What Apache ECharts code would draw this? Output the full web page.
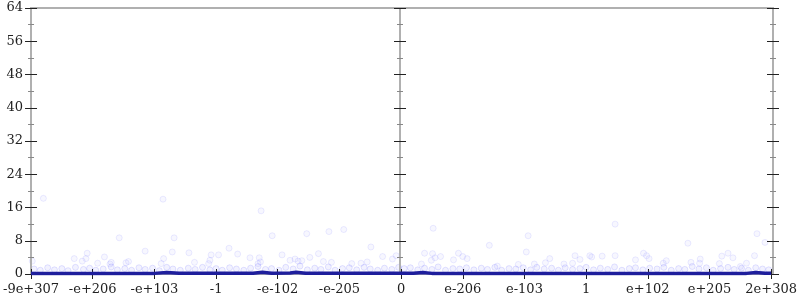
<!DOCTYPE html>
<html><head><meta charset="utf-8">
<script src="https://cdn.jsdelivr.net/npm/echarts@6/dist/echarts.min.js"></script>
<style>html,body{margin:0;padding:0;background:#fff}#c{width:800px;height:300px}</style>
</head><body><div id="c"></div>
<script>
const tickLabels = ['-9e+307','-e+206','-e+103','-1','-e-102','-e-205','0','e-206','e-103','1','e+102','e+205','2e+308'];
const yTicks = [0,8,16,24,32,40,48,56,64];

const scatterHigh = [[0.2,18.2],[2.14,18],[1.43,8.7],[2.32,8.7],[1.85,5.5],[2.29,5.3],[2.56,5.1],[0.91,5.0],[0.70,3.7],[0.89,3.7],[0.83,3.1],[1.19,4.1],[1.08,2.6],[1.28,2.4],[1.30,2.8],[1.54,2.7],[1.58,3.0],[2.15,3.7],[2.11,2.5],[2.65,2.8],[2.92,4.6],[2.9,3.3],[2.88,2.5],[0.02,3.1],
[3.73,15.2],[3.91,9.2],[4.47,9.7],[4.83,10.2],[5.07,10.7],[5.51,6.5],[3.04,4.6],[3.21,6.2],[3.35,4.8],[3.55,3.9],[3.70,3.9],[3.72,2.9],[3.68,2.5],[4.07,4.6],[4.2,3.3],[4.28,3.6],[4.33,3.1],[4.39,3.2],[4.52,4.0],[4.66,4.9],[4.74,3.0],[4.87,2.8],[5.2,2.5],[5.35,2.6],[5.45,2.9],[5.70,4.2],[5.86,3.6],[5.92,4.4],
[6.52,11],[8.06,9.2],[7.43,6.9],[8.03,5.3],[6.38,5.0],[6.51,4.9],[6.55,3.9],[6.49,3.3],[6.64,4.2],[6.93,5.0],[6.85,3.4],[7.0,4.2],[7.07,3.7],[6.33,2.4],[7.56,1.9],[7.9,2.3],[8.16,2.4],[8.34,2.7],[8.41,3.7],[8.64,2.4],[8.82,4.4],[8.78,2.6],[8.9,3.5],[9.06,4.4],
[9.47,12],[10.65,7.4],[11.77,9.7],[11.90,7.6],[9.26,4.3],[9.47,4.4],[9.09,4.1],[9.93,5.0],[9.98,4.4],[10.02,3.7],[9.8,3.4],[10.3,3.2],[10.25,2.6],[10.7,2.8],[10.85,3.6],[10.84,2.6],[11.2,4.3],[11.3,5.0],[11.38,3.9],[11.16,2.5],[11.5,1.8],[11.6,2.6],[11.73,4.4]];

const scatterLow = [[0.05,1.2],[0.15,0.9],[0.27,1.5],[0.38,1.0],[0.5,1.3],[0.6,0.8],[0.72,1.6],[0.85,1.1],[0.95,1.4],[1.05,0.9],[1.17,1.2],[1.3,1.7],[1.4,1.0],[1.52,1.3],[1.63,0.9],[1.75,1.5],[1.85,1.1],[1.97,1.4],[2.08,0.8],[2.2,1.6],[2.3,1.2],[2.42,0.9],[2.55,1.4],[2.66,1.1],[2.78,1.6],[2.9,1.0],[3.0,1.3],[3.1,0.9],[3.22,1.5],[3.33,1.2],[3.45,0.9],[3.56,1.4],[3.68,1.8],[3.8,1.1],[3.9,1.3],[4.02,0.9],[4.13,1.6],[4.25,1.2],[4.36,1.9],[4.48,1.0],[4.6,1.4],[4.7,1.1],[4.82,1.7],[4.93,0.9],[5.05,1.3],[5.16,1.5],[5.28,1.0],[5.4,1.6],[5.5,1.2],[5.62,0.9],[5.73,1.4],[5.85,1.1],[5.96,1.6],[6.05,1.3],[6.15,1.5],[6.27,1.0],[6.38,1.4],[6.5,1.1],[6.6,1.7],[6.72,0.9],[6.84,1.3],[6.95,1.2],[7.06,1.5],[7.18,1.0],[7.3,1.4],[7.4,1.1],[7.52,1.6],[7.63,0.9],[7.75,1.3],[7.86,1.2],[7.98,1.5],[8.1,1.0],[8.2,1.6],[8.32,1.2],[8.44,1.4],[8.55,0.9],[8.66,1.5],[8.78,1.1],[8.9,1.3],[9.0,1.6],[9.12,1.0],[9.23,1.4],[9.35,1.1],[9.46,1.7],[9.58,0.9],[9.7,1.3],[9.8,1.5],[9.92,1.0],[10.03,1.4],[10.15,1.2],[10.26,1.6],[10.38,0.9],[10.5,1.3],[10.6,1.1],[10.72,1.8],[10.83,1.2],[10.95,1.5],[11.06,0.9],[11.18,1.3],[11.3,1.6],[11.4,1.1],[11.52,1.4],[11.63,0.9],[11.75,1.5],[11.86,1.2],[11.96,1.0]];

const baseLine = [[0,0.15],[2.0,0.15],[2.2,0.35],[2.4,0.2],[3.6,0.2],[3.75,0.4],[3.9,0.2],[4.2,0.25],[4.3,0.4],[4.45,0.2],[6.2,0.2],[6.35,0.35],[6.5,0.15],[11.6,0.15],[11.75,0.35],[11.9,0.2],[12,0.2]];

const FONT = 'DejaVu Serif';
const chart = echarts.init(document.getElementById('c'), null, {renderer:'canvas'});

function yAx(grid, inside, labels){
  return {
    type:'value', gridIndex:grid, min:0, max:64, interval:8, position:'left',
    axisLine:{show:true, onZero:false, lineStyle:{color:'#b0b0b0', width:2}},
    axisTick:{show:true, inside:inside, length:6, lineStyle:{color:'#222', width:1}},
    minorTick:{show:true, splitNumber:2, length:3, lineStyle:{color:'#888', width:1}},
    splitLine:{show:false},
    axisLabel:{show:labels, color:'#222', fontFamily:FONT, fontSize:13, margin:8},
    z: 5
  };
}
function xAx(inside, labels){
  return {
    type:'value', gridIndex:0, min:0, max:12, interval:1, position:'bottom',
    axisLine:{show:true, onZero:false, lineStyle:{color:'#b0b0b0', width:2}},
    axisTick:{show:true, inside:inside, length:5, lineStyle:{color:'#222', width:1}},
    splitLine:{show:false},
    axisLabel:{show:labels, color:'#222', fontFamily:FONT, fontSize:13, margin:9,
      formatter:function(v){return tickLabels[Math.round(v)];}},
    z: 5
  };
}

chart.setOption({
  animation:false,
  grid:[
    {left:28, right:27, top:8, bottom:26, show:false},
    {left:400, right:27, top:8, bottom:26, show:false},
    {left:773, right:0, top:8, bottom:26, show:false}
  ],
  xAxis:[xAx(false,true), xAx(true,false),
    {type:'value', gridIndex:0, min:0, max:12, position:'top',
     axisLine:{show:true, onZero:false, lineStyle:{color:'#b0b0b0', width:2}},
     axisTick:{show:false}, axisLabel:{show:false}, splitLine:{show:false}},
    {type:'value', gridIndex:1, min:0, max:1, show:false},
    {type:'value', gridIndex:2, min:0, max:1, show:false}],
  yAxis:[yAx(0,false,true), yAx(0,true,false),
         yAx(1,false,false), yAx(1,true,false),
         yAx(2,false,false), yAx(2,true,false)],
  series:[
    {type:'scatter', xAxisIndex:0, yAxisIndex:0, data:scatterLow, symbolSize:6,
     itemStyle:{color:'rgba(120,120,255,0.12)', borderColor:'rgba(90,90,255,0.2)', borderWidth:1}, z:2},
    {type:'scatter', xAxisIndex:0, yAxisIndex:0, data:scatterHigh, symbolSize:6,
     itemStyle:{color:'rgba(120,120,255,0.08)', borderColor:'rgba(90,90,255,0.15)', borderWidth:1}, z:2},
    {type:'line', xAxisIndex:0, yAxisIndex:0, data:baseLine, showSymbol:false, symbol:'none',
     lineStyle:{color:'#1e1e9c', width:3.5}, z:6}
  ]
});
</script></body></html>
